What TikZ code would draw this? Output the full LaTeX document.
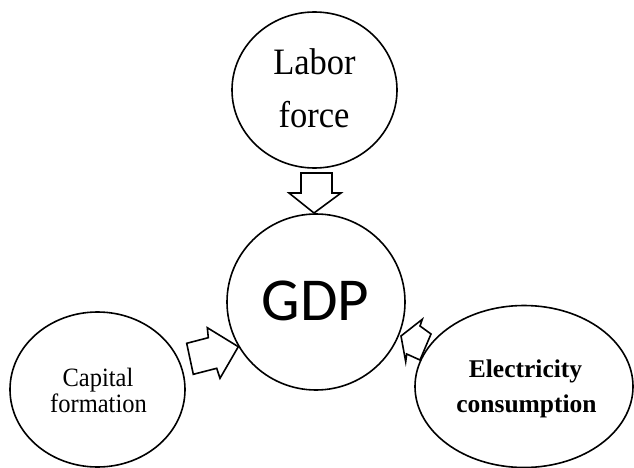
\documentclass[tikz,border=0pt]{standalone}
\usepackage{fontspec}
\usepackage{graphicx}
\setmainfont{Liberation Serif}
\newfontfamily\gdpfont{Carlito}
\usetikzlibrary{shapes.geometric}
\newcommand{\tallertext}[1]{\scalebox{1}[1.08]{#1}}
\begin{document}
\begin{tikzpicture}[x=1pt,y=-1pt,
  oval/.style={draw, ellipse, inner sep=0pt, line width=1.6pt},
  blockarrow/.style={draw, line width=1.6pt, line join=miter, fill=white},
  txt/.style={anchor=base, inner sep=0pt}]
\useasboundingbox (0,0) rectangle (634,468);
% ovals
\node[oval, minimum width=165pt, minimum height=156pt] (labor) at (314.5,90) {};
\node[oval, minimum width=178pt, minimum height=176pt] (gdp) at (316,302) {};
\node[oval, minimum width=175pt, minimum height=155pt] (capital) at (97.5,389.5) {};
\node[oval, minimum width=218pt, minimum height=162pt] (elec) at (524,386.5) {};
% texts
\node[txt, font=\fontsize{34.5}{40}\selectfont] (laborA) at (314.5,75) {\tallertext{Labor}};
\node[txt, font=\fontsize{34.5}{40}\selectfont] (laborB) at (314,128) {\tallertext{force}};
\node[txt, font=\gdpfont\fontsize{61}{70}\selectfont] (gdpT) at (315.5,320) {GDP};
\node[txt, font=\fontsize{24.5}{28}\selectfont] (capA) at (98,386) {\tallertext{Capital}};
\node[txt, font=\fontsize{24.5}{28}\selectfont] (capB) at (98.5,412) {\tallertext{formation}};
\node[txt, font=\bfseries\fontsize{25.5}{30}\selectfont] (elecA) at (525.5,377) {Electricity};
\node[txt, font=\bfseries\fontsize{25.5}{30}\selectfont] (elecB) at (526.5,412) {consumption};
% block arrows
\draw[blockarrow] (301,173) -- (332,173) -- (332,193) -- (341,193) -- (314,213) -- (289,193) -- (301,193) -- cycle;
\draw[blockarrow] (186.7,343.3) -- (208.3,337.7) -- (207.3,327.7) -- (238.3,346.7) -- (220,378.3) -- (216.7,368.3) -- (193.3,374.3) -- cycle;
\draw[blockarrow] (401,336) -- (422.3,319.3) -- (420,326) -- (431,334) -- (420,360) -- (406.7,354) -- (405.7,361.7) -- cycle;
\end{tikzpicture}
\end{document}
